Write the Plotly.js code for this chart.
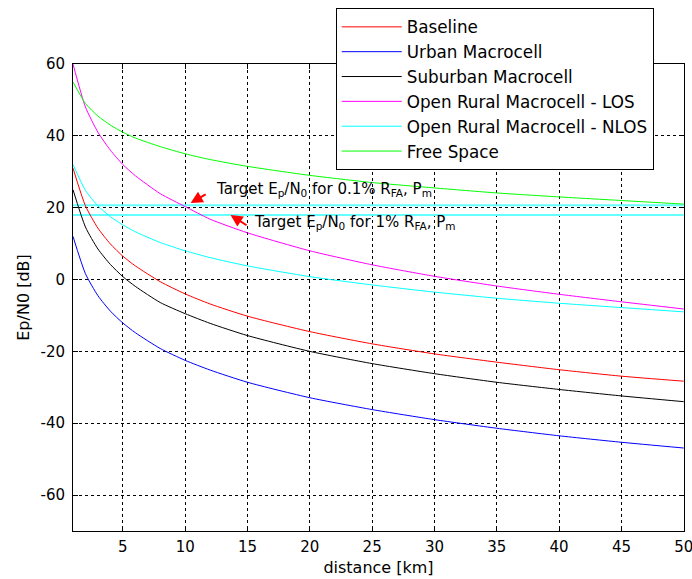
<!DOCTYPE html>
<html><head><meta charset="utf-8">
<script src="https://cdn.plot.ly/plotly-3.0.1.min.js"></script>
<style>html,body{margin:0;padding:0;background:#fff;}#chart{width:692px;height:579px;}</style>
</head><body><div id="chart"></div>
<script>
const distanceKm = [1,2,3,4,5,6,8,10,12,15,20,25,30,35,40,45,50];
const baseline   = [31,20.5,14.3,9.9,6.5,3.8,-0.6,-4,-6.8,-10.2,-14.5,-17.9,-20.7,-23,-25.1,-26.9,-28.3];
const urban      = [12,1.6,-4.5,-8.8,-12.1,-14.8,-19.2,-22.5,-25.2,-28.6,-32.9,-36.2,-39,-41.4,-43.5,-45.3,-46.9];
const suburban   = [25,14.6,8.5,4.2,0.8,-1.9,-6.4,-9.5,-12.2,-15.6,-20,-23.4,-26.2,-28.6,-30.6,-32.4,-34];
const ruralLOS   = [60,48,41,36,32,28.9,23.9,20.3,16.8,13,8,4.1,0.9,-1.8,-4.1,-6.2,-8.2];
const ruralNLOS  = [32,24.8,20.5,17.5,15.2,13.3,10.3,8,6.1,3.8,0.8,-1.5,-3.5,-5.2,-6.6,-7.8,-9];
const freeSpace  = [55,49,45.5,43,41,39.4,37,35,33.4,31.5,29,27,25.5,24.1,23,22,21];
const seriesNames = ['Baseline','Urban Macrocell','Suburban Macrocell','Open Rural Macrocell - LOS','Open Rural Macrocell - NLOS','Free Space'];
const targetX = [1,50];
const targetLevels = [20.7, 18];
const xTicks = [5,10,15,20,25,30,35,40,45,50];
const yTicks = [-60,-40,-20,0,20,40,60];
const yTickLabels = ['-60','-40','-20','0','20','40','60'];

const seriesData = [baseline, urban, suburban, ruralLOS, ruralNLOS, freeSpace];
const colors = ['#ff0000','#0000ff','#000000','#ff00ff','#00ffff','#00ff00'];

const traces = [];
targetLevels.forEach(v => traces.push({
  x: targetX, y: [v, v], mode: 'lines', showlegend: false, hoverinfo: 'skip',
  line: {color: '#66ffff', width: 2}
}));
seriesData.forEach((s, i) => traces.push({
  x: distanceKm, y: s, mode: 'lines', name: seriesNames[i], legendgroup: 'g' + i,
  line: {color: colors[i], width: 1, shape: 'spline', smoothing: 0.6}
}));

const fam = 'DejaVu Sans, Verdana, sans-serif';
const f = (s) => ({family: fam, size: s, color: '#000'});
const layout = {
  width: 692, height: 579,
  margin: {l: 73, r: 8, t: 62, b: 48},
  paper_bgcolor: '#fff', plot_bgcolor: '#fff',
  font: f(15),
  showlegend: true,
  legend: {x: 0.43, y: 1.119, xanchor: 'left', yanchor: 'top', bgcolor: '#fff',
           bordercolor: '#000', borderwidth: 1, font: f(16.8),
           tracegroupgap: 5, itemwidth: 60, traceorder: 'normal'},
  xaxis: {range: [1, 50.02], tickvals: xTicks, ticks: 'inside', ticklen: 5, tickcolor: '#000',
          showline: true, linecolor: '#000', linewidth: 1, mirror: 'ticks',
          showgrid: true, gridcolor: '#000', griddash: '3px,3px', gridwidth: 1, zeroline: false,
          tickfont: f(15), ticklabeloverflow: 'allow', ticklabelstandoff: 2,
          title: {text: 'distance [km]', font: f(16), standoff: 6}},
  yaxis: {range: [-70, 60], tickvals: yTicks, ticktext: yTickLabels, ticks: 'inside', ticklen: 5, tickcolor: '#000',
          showline: true, linecolor: '#000', linewidth: 1, mirror: 'ticks',
          showgrid: true, gridcolor: '#000', griddash: '3px,3px', gridwidth: 1, zeroline: false,
          tickfont: f(15), ticklabelstandoff: 4,
          title: {text: 'Ep/N0 [dB]', font: f(16), standoff: 6}},
  annotations: [
    {x: 10.44, y: 21.3, ax: 19, ay: -11, text: ' ', showarrow: true, arrowcolor: '#ff0000',
     arrowhead: 2, arrowsize: 1.2, arrowwidth: 2, standoff: 0},
    {x: 13.64, y: 18.0, ax: 20, ay: 13, text: ' ', showarrow: true, arrowcolor: '#ff0000',
     arrowhead: 2, arrowsize: 1.2, arrowwidth: 2, standoff: 0},
    {x: 12.28, y: 25.0, xanchor: 'left', yanchor: 'middle', showarrow: false,
     text: 'Target E<sub>p</sub>/N<sub>0</sub> for 0.1% R<sub>FA</sub>, P<sub>m</sub>',
     font: f(15)},
    {x: 15.4, y: 15.8, xanchor: 'left', yanchor: 'middle', showarrow: false,
     text: 'Target E<sub>p</sub>/N<sub>0</sub> for 1% R<sub>FA</sub>, P<sub>m</sub>',
     font: f(15)}
  ]
};
Plotly.newPlot('chart', traces, layout, {displayModeBar: false, staticPlot: true});
</script>
</body></html>
